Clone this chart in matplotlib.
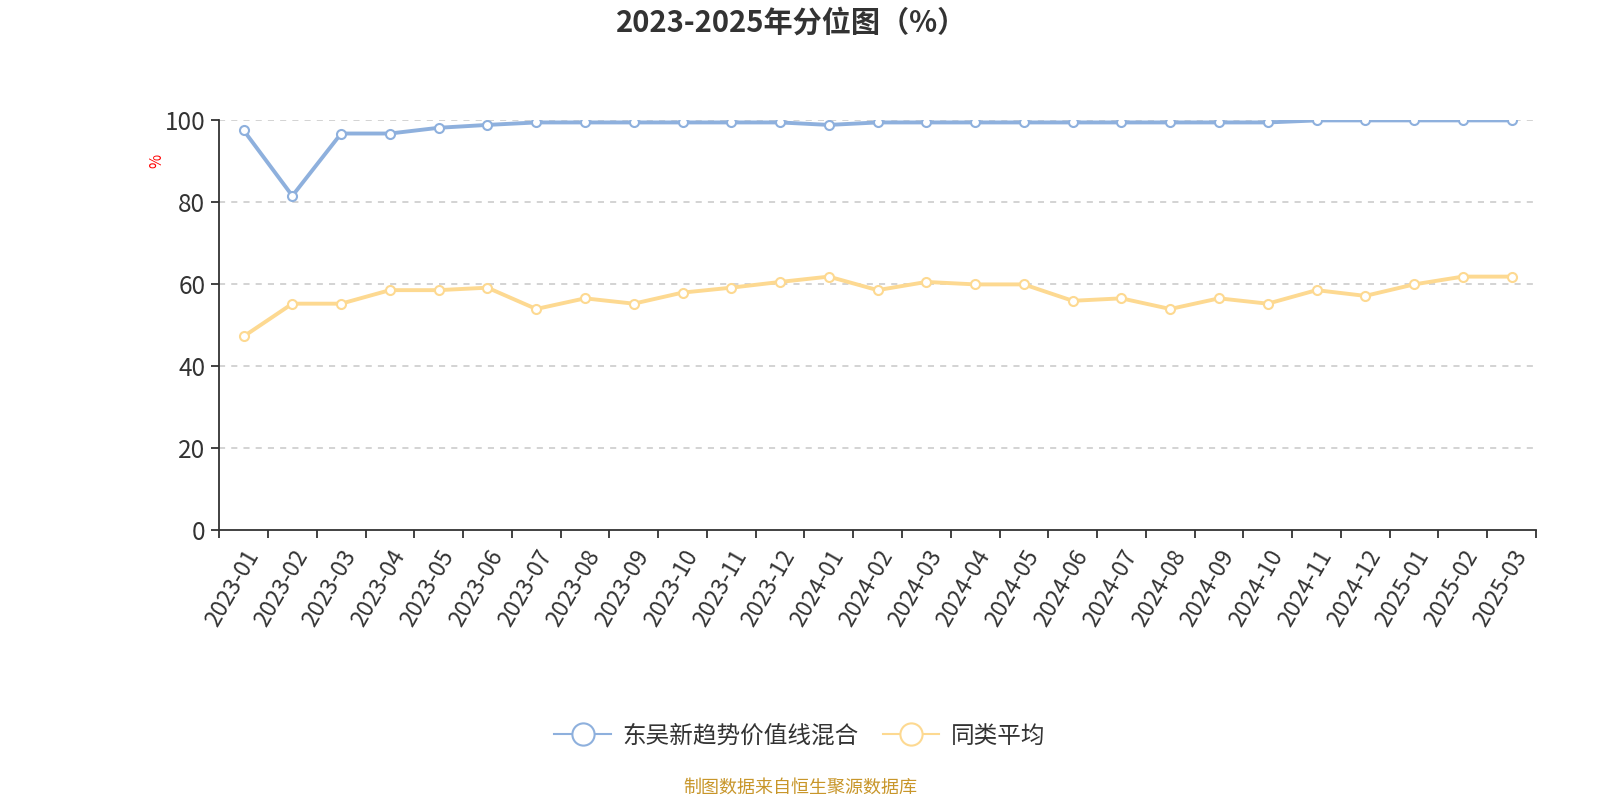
import matplotlib
matplotlib.use('Agg')
from matplotlib import pyplot as plt
import numpy as np

plt.rcParams['font.family'] = ['Noto Sans CJK SC', 'DejaVu Sans']

months = ['2023-01', '2023-02', '2023-03', '2023-04', '2023-05', '2023-06',
          '2023-07', '2023-08', '2023-09', '2023-10', '2023-11', '2023-12',
          '2024-01', '2024-02', '2024-03', '2024-04', '2024-05', '2024-06',
          '2024-07', '2024-08', '2024-09', '2024-10', '2024-11', '2024-12',
          '2025-01', '2025-02', '2025-03']

fund = [97.6, 81.6, 96.8, 96.8, 98.2, 98.9, 99.5, 99.5, 99.5, 99.5, 99.5, 99.5,
        98.9, 99.5, 99.5, 99.5, 99.5, 99.5, 99.5, 99.5, 99.5, 99.5,
        100.0, 100.0, 100.0, 100.0, 100.0]

peer_avg = [47.3, 55.3, 55.3, 58.6, 58.6, 59.2, 54.0, 56.6, 55.3, 58.0, 59.2, 60.6,
            61.9, 58.6, 60.6, 60.0, 60.0, 56.0, 56.6, 54.0, 56.6, 55.3,
            58.6, 57.2, 60.0, 61.9, 61.9]

fund_name = '东吴新趋势价值线混合'
peer_name = '同类平均'

blue = '#8eb0dd'
orange = '#fdd991'
text_c = '#333333'

fig = plt.figure(figsize=(16, 8), dpi=100)
ax = fig.add_axes([0.137, 0.337, 0.823, 0.5125])

xs = np.arange(len(months))
ax.plot(xs, fund, color=blue, linewidth=2.8, marker='o', markersize=6.5,
        markerfacecolor='white', markeredgecolor=blue, markeredgewidth=1.5,
        label=fund_name, zorder=3)
ax.plot(xs, peer_avg, color=orange, linewidth=2.8, marker='o', markersize=6.5,
        markerfacecolor='white', markeredgecolor=orange, markeredgewidth=1.5,
        label=peer_name, zorder=3)

ax.set_xlim(-0.5, len(months) - 0.5)
ax.set_ylim(0, 100)
ax.set_yticks(np.arange(0, 101, 20))
for v in range(20, 101, 20):
    ax.axhline(v, color='#c8c8c8', linestyle=(0, (4, 4)), linewidth=1.1, zorder=1)

ax.set_xticks(xs)
ax.set_xticklabels(months, rotation=60, ha='right', va='top',
                   rotation_mode='anchor', fontsize=16.5, color=text_c)
ax.set_xticks(np.arange(-0.5, len(months)), minor=True)
ax.tick_params(axis='x', which='major', length=0, pad=11)
ax.tick_params(axis='x', which='minor', length=6, width=1.3, color=text_c)
ax.tick_params(axis='y', length=6, width=1.3, color=text_c, labelsize=17.5,
               labelcolor=text_c, pad=4)

for side in ['top', 'right']:
    ax.spines[side].set_visible(False)
for side in ['left', 'bottom']:
    ax.spines[side].set_color(text_c)
    ax.spines[side].set_linewidth(1.3)

ax.set_ylabel('%', color='red', fontsize=11)
ax.yaxis.set_label_coords(-0.041, 0.9)

fig.text(0.495, 0.972, '2023-2025年分位图（%）', ha='center', va='center',
         fontsize=21, fontweight='bold', color=text_c)

leg = fig.legend(loc='center', bbox_to_anchor=(0.5, 0.08), ncol=2, frameon=False,
                 fontsize=17, handlelength=2.4, columnspacing=1.0, handletextpad=0.5)
for h in leg.legend_handles:
    h.set_markersize(16)
    h.set_linewidth(1.5)
for t in leg.get_texts():
    t.set_color(text_c)

fig.text(0.5, 0.015, '制图数据来自恒生聚源数据库', ha='center', va='center',
         fontsize=13, color='#c8962a')

plt.savefig('out.png', dpi=100)
